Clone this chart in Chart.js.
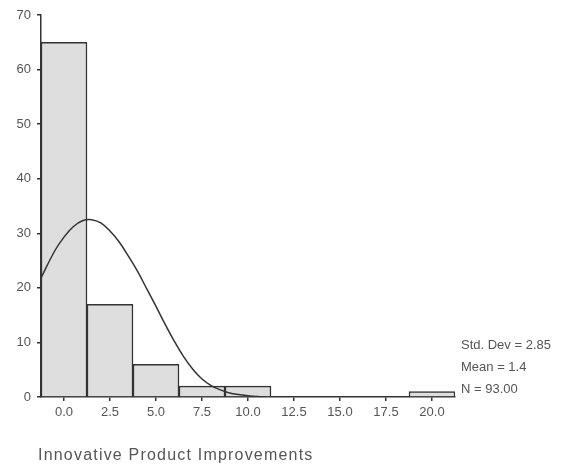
<!DOCTYPE html>
<html>
<head>
<meta charset="utf-8">
<script src="https://cdn.jsdelivr.net/npm/chart.js@4/dist/chart.umd.min.js"></script>
<style>
  html, body { margin: 0; padding: 0; background: #fff; }
  #wrap { width: 565px; height: 466px; position: relative; }
</style>
</head>
<body>
<div id="wrap"><canvas id="chart" width="565" height="466"></canvas></div>
<script>
// histogram bins (bin centres, width 2.5) and counts
const binCentres = [0.0, 2.5, 5.0, 7.5, 10.0, 20.0];
const binCounts = [65, 17, 6, 2, 2, 1];

// normal curve
const curveX = [-1.25, -0.5, 0, 0.5, 1, 1.5, 2, 2.5, 3, 3.5, 4, 4.5, 5, 5.5, 6, 6.5, 7, 7.5, 8, 8.5, 9, 9.5, 10, 10.5, 11];
const curveY = [21.8, 26.8, 29.3, 31.2, 32.3, 32.5, 31.9, 30.4, 28.4, 25.8, 23, 19.8, 16.6, 13.3, 10.2, 7.4, 5.1, 3.3, 2.1, 1.3, 0.75, 0.45, 0.25, 0.1, 0];

const xTicks = [0, 2.5, 5, 7.5, 10, 12.5, 15, 17.5, 20];
const yTicks = [0, 10, 20, 30, 40, 50, 60, 70];

const statLines = ['Std. Dev = 2.85', 'Mean = 1.4', 'N = 93.00'];
const axisTitle = 'Innovative Product Improvements';

const ink = '#333';
const labelColor = '#555';

const textPlugin = {
    id: 'extraText',
    afterDraw(chart) {
        const ctx = chart.ctx;
        ctx.save();
        ctx.fillStyle = labelColor;
        ctx.textBaseline = 'middle';
        ctx.textAlign = 'left';
        ctx.font = '13px "Liberation Sans", Arial, sans-serif';
        statLines.forEach((t, i) => {
            ctx.fillText(t, 461, 345 + i * 22);
        });
        ctx.font = '16px "Liberation Sans", Arial, sans-serif';
        ctx.letterSpacing = '1.2px';
        ctx.fillText(axisTitle, 38, 456);
        ctx.restore();
    }
};

new Chart(document.getElementById('chart'), {
    data: {
        datasets: [
            {
                type: 'line',
                data: curveX.map((x, i) => ({ x: x, y: curveY[i] })),
                borderColor: ink,
                borderWidth: 1.5,
                pointRadius: 0,
                tension: 0.4,
                fill: false,
                order: 0
            },
            {
                type: 'bar',
                data: binCentres.map((x, i) => ({ x: x, y: binCounts[i] })),
                backgroundColor: '#dedede',
                borderColor: ink,
                borderWidth: 1.5,
                barPercentage: 1,
                categoryPercentage: 1,
                grouped: false,
                order: 1
            }
        ]
    },
    options: {
        responsive: false,
        animation: false,
        layout: { padding: { top: 15, right: 110, left: 0, bottom: 0 } },
        plugins: { legend: { display: false }, tooltip: { enabled: false } },
        scales: {
            x: {
                type: 'linear',
                offset: false,
                min: -1.25,
                max: 21.25,
                afterBuildTicks(scale) { scale.ticks = xTicks.map(v => ({ value: v })); },
                afterFit(scale) { scale.height = 69; },
                grid: { display: true, offset: false, drawOnChartArea: false, drawTicks: true, tickLength: 4, color: ink, lineWidth: 1.5 },
                border: { display: true, color: ink, width: 1.5 },
                ticks: {
                    color: labelColor,
                    font: { family: '"Liberation Sans", Arial, sans-serif', size: 13 },
                    padding: 4,
                    maxRotation: 0,
                    callback: v => Number(v).toFixed(1)
                }
            },
            y: {
                min: 0,
                max: 70,
                afterBuildTicks(scale) { scale.ticks = yTicks.map(v => ({ value: v })); },
                afterFit(scale) { scale.width = 41; },
                grid: { display: true, drawOnChartArea: false, drawTicks: true, tickLength: 4, color: ink, lineWidth: 1.5 },
                border: { display: true, color: ink, width: 1.5 },
                ticks: {
                    color: labelColor,
                    font: { family: '"Liberation Sans", Arial, sans-serif', size: 13 },
                    padding: 6
                }
            }
        }
    },
    plugins: [textPlugin]
});
</script>
</body>
</html>
